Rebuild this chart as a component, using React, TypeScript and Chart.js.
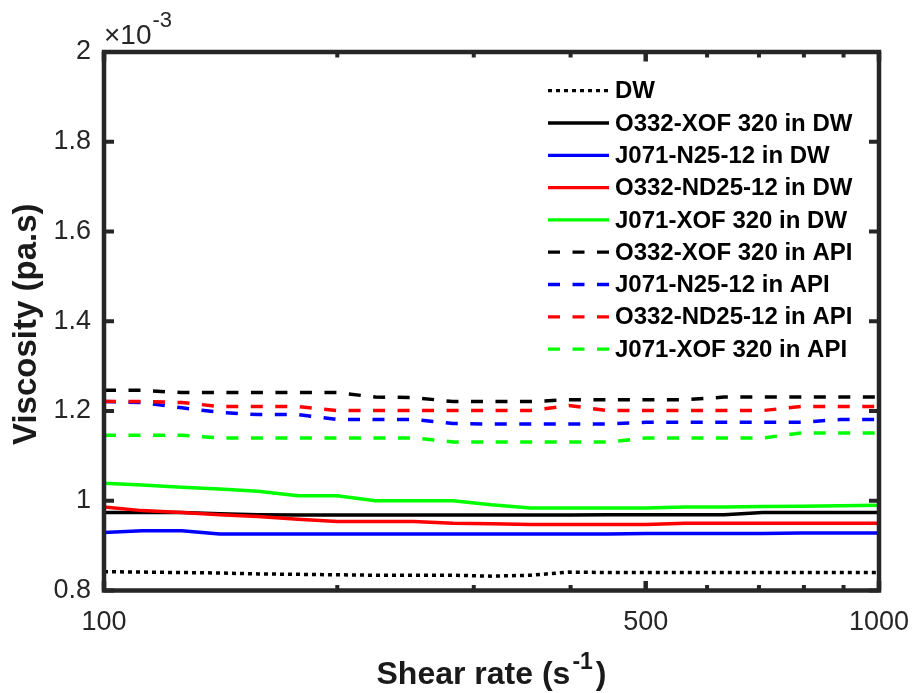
import React, { useEffect, useRef } from "react";
import { Chart, registerables } from "chart.js";

Chart.register(...registerables);

// ---------- data ----------
const SHEAR_RATES = [100, 112, 126, 141, 158, 178, 200, 224, 251, 282, 316, 355, 398, 447, 501, 562, 631, 708, 794, 891, 1000];
const X_TICKS = [100, 500, 1000];
const X_MINOR_TICKS = [200, 300, 400, 600, 700, 800, 900];
const Y_MIN = 0.8;
const Y_MAX = 2;
const Y_STEP = 0.2;
const Y_EXPONENT = "-3";

const SERIES_LABELS = [
  "DW",
  "O332-XOF 320 in DW",
  "J071-N25-12 in DW",
  "O332-ND25-12 in DW",
  "J071-XOF 320 in DW",
  "O332-XOF 320 in API",
  "J071-N25-12 in API",
  "O332-ND25-12 in API",
  "J071-XOF 320 in API",
];

const DW = [0.842, 0.841, 0.840, 0.839, 0.837, 0.836, 0.835, 0.834, 0.834, 0.834, 0.832, 0.834, 0.841, 0.840, 0.840, 0.840, 0.840, 0.840, 0.840, 0.840, 0.840];
const O332_XOF_DW = [0.974, 0.974, 0.974, 0.971, 0.969, 0.968, 0.968, 0.968, 0.968, 0.968, 0.968, 0.968, 0.968, 0.969, 0.969, 0.969, 0.969, 0.974, 0.974, 0.974, 0.974];
const J071_N25_DW = [0.929, 0.933, 0.933, 0.926, 0.926, 0.926, 0.926, 0.926, 0.926, 0.926, 0.926, 0.926, 0.926, 0.926, 0.927, 0.927, 0.927, 0.927, 0.928, 0.928, 0.928];
const O332_ND25_DW = [0.986, 0.978, 0.974, 0.969, 0.965, 0.959, 0.954, 0.954, 0.954, 0.950, 0.949, 0.947, 0.947, 0.947, 0.947, 0.950, 0.950, 0.950, 0.950, 0.950, 0.950];
const J071_XOF_DW = [1.039, 1.035, 1.030, 1.026, 1.021, 1.011, 1.011, 1.000, 1.000, 1.000, 0.991, 0.984, 0.984, 0.984, 0.984, 0.986, 0.986, 0.987, 0.988, 0.989, 0.990];
const O332_XOF_API = [1.246, 1.246, 1.241, 1.241, 1.241, 1.241, 1.241, 1.231, 1.230, 1.221, 1.221, 1.221, 1.225, 1.225, 1.225, 1.225, 1.231, 1.231, 1.231, 1.231, 1.231];
const J071_N25_API = [1.221, 1.219, 1.207, 1.197, 1.192, 1.192, 1.181, 1.181, 1.181, 1.172, 1.171, 1.171, 1.171, 1.171, 1.175, 1.175, 1.175, 1.175, 1.175, 1.181, 1.181];
const O332_ND25_API = [1.221, 1.221, 1.219, 1.210, 1.210, 1.210, 1.201, 1.201, 1.201, 1.201, 1.201, 1.201, 1.212, 1.201, 1.201, 1.201, 1.201, 1.201, 1.210, 1.210, 1.210];
const J071_XOF_API = [1.146, 1.146, 1.146, 1.140, 1.140, 1.140, 1.140, 1.140, 1.140, 1.131, 1.131, 1.131, 1.131, 1.131, 1.140, 1.140, 1.140, 1.140, 1.151, 1.151, 1.151];

const SERIES_VALUES = [DW, O332_XOF_DW, J071_N25_DW, O332_ND25_DW, J071_XOF_DW, O332_XOF_API, J071_N25_API, O332_ND25_API, J071_XOF_API];

// ---------- styles ----------
const SERIES_COLORS = ["#000000", "#000000", "#0000ff", "#ff0000", "#00ff00", "#000000", "#0000ff", "#ff0000", "#00ff00"];
const DOT = [4, 4];
const DASH = [12, 12.5];
const SOLID: number[] = [];
const SERIES_DASHES = [DOT, SOLID, SOLID, SOLID, SOLID, DASH, DASH, DASH, DASH];

const FONT = '"Liberation Sans", Arial, Helvetica, sans-serif';
const AXIS_COLOR = "#262626";

const decorPlugin = {
  id: "decor",
  afterDraw(chart: any) {
    const { ctx, chartArea: ca, scales } = chart;
    const xs = scales.x;
    const ys = scales.y;
    ctx.save();

    // ticks (inward, mirrored)
    ctx.strokeStyle = AXIS_COLOR;
    ctx.lineCap = "butt";
    ctx.lineWidth = 4;
    ctx.beginPath();
    for (const t of ys.ticks) {
      const py = ys.getPixelForValue(t.value);
      ctx.moveTo(ca.left, py);
      ctx.lineTo(ca.left + 10, py);
      ctx.moveTo(ca.right, py);
      ctx.lineTo(ca.right - 10, py);
    }
    ctx.stroke();
    ctx.lineWidth = 4.5;
    ctx.beginPath();
    for (const v of X_TICKS) {
      const px = xs.getPixelForValue(v);
      ctx.moveTo(px, ca.bottom);
      ctx.lineTo(px, ca.bottom - 9.5);
      ctx.moveTo(px, ca.top);
      ctx.lineTo(px, ca.top + 9.5);
    }
    ctx.stroke();
    ctx.lineWidth = 4;
    ctx.beginPath();
    for (const v of X_MINOR_TICKS) {
      const px = xs.getPixelForValue(v);
      ctx.moveTo(px, ca.bottom);
      ctx.lineTo(px, ca.bottom - 5.5);
      ctx.moveTo(px, ca.top);
      ctx.lineTo(px, ca.top + 5.5);
    }
    ctx.stroke();

    // frame
    ctx.lineWidth = 4.5;
    ctx.strokeRect(ca.left, ca.top, ca.right - ca.left, ca.bottom - ca.top);

    // exponent label
    ctx.fillStyle = AXIS_COLOR;
    ctx.textAlign = "left";
    ctx.textBaseline = "alphabetic";
    ctx.font = `28px ${FONT}`;
    const base = "\u00d710";
    ctx.fillText(base, ca.left, ca.top - 8);
    const wb = ctx.measureText(base).width;
    ctx.font = `22px ${FONT}`;
    ctx.fillText(Y_EXPONENT, ca.left + wb + 1, ca.top - 25);

    // x title with superscript
    ctx.fillStyle = "#1a1a1a";
    const main = "Shear rate (s";
    const sup = "-1";
    const close = ")";
    ctx.font = `bold 32px ${FONT}`;
    const wMain = ctx.measureText(main).width;
    const wClose = ctx.measureText(close).width;
    ctx.font = `bold 23px ${FONT}`;
    const wSup = ctx.measureText(sup).width;
    const total = wMain + wSup + wClose + 5;
    const cx = (ca.left + ca.right) / 2;
    const x0 = cx - total / 2;
    const by = 684;
    ctx.font = `bold 32px ${FONT}`;
    ctx.fillText(main, x0, by);
    ctx.font = `bold 23px ${FONT}`;
    ctx.fillText(sup, x0 + wMain + 2, by - 15);
    ctx.font = `bold 32px ${FONT}`;
    ctx.fillText(close, x0 + wMain + wSup + 5, by);

    // y title
    ctx.save();
    ctx.translate(27, (ca.top + ca.bottom) / 2 + 3);
    ctx.rotate(-Math.PI / 2);
    ctx.textAlign = "center";
    ctx.textBaseline = "middle";
    ctx.font = `bold 33px ${FONT}`;
    ctx.fillText("Viscosity (pa.s)", 0, 0);
    ctx.restore();

    // legend (inside the plot, top right)
    const lineX0 = ca.right - 331;
    const lineX1 = ca.right - 270;
    const textX = ca.right - 264;
    const row0 = ca.top + 38.7;
    const rowH = 32.3;
    chart.data.datasets.forEach((ds: any, i: number) => {
      const y = row0 + i * rowH;
      ctx.save();
      ctx.strokeStyle = ds.borderColor;
      ctx.lineWidth = 3.3;
      ctx.setLineDash(ds.borderDash || []);
      ctx.beginPath();
      ctx.moveTo(lineX0, y);
      ctx.lineTo(lineX1, y);
      ctx.stroke();
      ctx.restore();
      ctx.fillStyle = "#000000";
      ctx.font = `bold 24px ${FONT}`;
      ctx.textAlign = "left";
      ctx.textBaseline = "middle";
      ctx.fillText(ds.label, textX, y + 1);
    });

    ctx.restore();
  },
};

export default function App() {
  const ref = useRef<HTMLCanvasElement | null>(null);

  useEffect(() => {
    const canvas = ref.current;
    if (!canvas) return;
    const datasets = SERIES_LABELS.map((label, i) => ({
      label,
      data: SHEAR_RATES.map((x, j) => ({ x, y: SERIES_VALUES[i][j] })),
      borderColor: SERIES_COLORS[i],
      backgroundColor: SERIES_COLORS[i],
      borderDash: SERIES_DASHES[i],
      borderWidth: 3.5,
      pointRadius: 0,
      pointHoverRadius: 0,
      tension: 0,
      fill: false,
      order: SERIES_LABELS.length - i,
    }));

    const chart = new Chart(canvas, {
      type: "line",
      data: { datasets },
      options: {
        responsive: false,
        animation: false,
        devicePixelRatio: 1,
        layout: { padding: { left: 0, right: 35, top: 52, bottom: 0 } },
        plugins: {
          legend: { display: false },
          tooltip: { enabled: false },
          title: { display: false },
        },
        scales: {
          x: {
            type: "logarithmic",
            min: 100,
            max: 1000,
            afterBuildTicks: (axis: any) => {
              axis.ticks = X_TICKS.map((v) => ({ value: v }));
            },
            afterFit: (axis: any) => {
              axis.height = 102.5;
              axis.paddingLeft = 0;
              axis.paddingRight = 0;
            },
            grid: { display: false, drawTicks: false },
            border: { display: false },
            ticks: {
              autoSkip: false,
              maxRotation: 0,
              minRotation: 0,
              padding: 16,
              color: AXIS_COLOR,
              font: { family: FONT, size: 27 },
              callback: (v: any) => String(v),
            },
          },
          y: {
            type: "linear",
            min: Y_MIN,
            max: Y_MAX,
            afterFit: (axis: any) => {
              axis.width = 104;
              axis.paddingTop = 0;
              axis.paddingBottom = 0;
            },
            grid: { display: false, drawTicks: false },
            border: { display: false },
            ticks: {
              stepSize: Y_STEP,
              padding: 13,
              color: AXIS_COLOR,
              font: { family: FONT, size: 27 },
              callback: (v: any) => String(parseFloat(Number(v).toFixed(1))),
            },
          },
        },
      } as any,
      plugins: [decorPlugin],
    });
    return () => chart.destroy();
  }, []);

  return (
    <canvas
      ref={ref}
      width={914}
      height={693}
      style={{ position: "fixed", left: 0, top: 0, width: 914, height: 693, background: "#ffffff" }}
    />
  );
}
